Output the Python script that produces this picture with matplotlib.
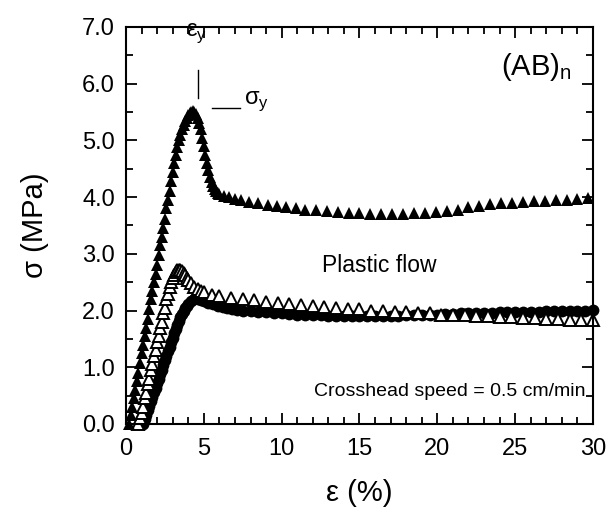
import matplotlib
matplotlib.use("Agg")
import matplotlib.pyplot as plt
from matplotlib.ticker import MultipleLocator, FormatStrFormatter

plt.rcParams['font.family'] = ['Liberation Sans', 'DejaVu Sans']

# filled triangles (highest curve)
strain_a = [0.2, 0.3, 0.4, 0.5, 0.6, 0.7, 0.8, 0.9, 1.0, 1.1, 1.2, 1.3, 1.4, 1.5,
            1.6, 1.7, 1.8, 1.9, 2.0, 2.1, 2.2, 2.3, 2.4, 2.5, 2.6, 2.7, 2.8, 2.9,
            3.0, 3.1, 3.2, 3.3, 3.4, 3.5, 3.6, 3.7, 3.8, 3.9, 4.0, 4.1, 4.2, 4.3,
            4.4, 4.5, 4.6, 4.7, 4.8, 4.9, 5.0, 5.1, 5.2, 5.3, 5.4, 5.5, 5.6, 5.7,
            5.8, 5.9, 6.0, 6.3, 6.6, 7.0, 7.4, 7.9, 8.5, 9.1, 9.7, 10.3, 10.9,
            11.5, 12.2, 12.9, 13.6, 14.3, 15.0, 15.7, 16.4, 17.1, 17.8, 18.5,
            19.2, 19.9, 20.6, 21.3, 22.0, 22.7, 23.4, 24.1, 24.8, 25.5, 26.2,
            26.9, 27.6, 28.3, 29.0, 29.7]
stress_a = [0.0, 0.15, 0.3, 0.45, 0.6, 0.75, 0.9, 1.08, 1.25, 1.4, 1.55, 1.7, 1.85, 2.02,
            2.2, 2.35, 2.5, 2.65, 2.8, 2.98, 3.15, 3.3, 3.45, 3.62, 3.8, 3.95, 4.1, 4.28,
            4.45, 4.6, 4.75, 4.88, 5.0, 5.1, 5.2, 5.28, 5.35, 5.4, 5.45, 5.48, 5.5, 5.51,
            5.5, 5.47, 5.4, 5.3, 5.2, 5.05, 4.9, 4.75, 4.6, 4.47, 4.35, 4.27, 4.2, 4.15,
            4.1, 4.07, 4.05, 4.02, 4.0, 3.97, 3.95, 3.92, 3.9, 3.87, 3.84, 3.82, 3.8,
            3.78, 3.77, 3.75, 3.74, 3.72, 3.72, 3.71, 3.7, 3.7, 3.71, 3.72,
            3.72, 3.73, 3.75, 3.78, 3.82, 3.85, 3.88, 3.9, 3.9, 3.92, 3.93,
            3.93, 3.95, 3.95, 3.97, 3.98]

# open triangles
strain_b = [0.8, 0.9, 1.0, 1.1, 1.2, 1.3, 1.4, 1.5, 1.6, 1.7, 1.8, 1.9, 2.0, 2.1,
            2.2, 2.3, 2.4, 2.5, 2.6, 2.7, 2.8, 2.9, 3.0, 3.1, 3.2, 3.3, 3.4, 3.5,
            3.6, 3.7, 3.8, 3.9, 4.0, 4.2, 4.4, 4.6, 4.8, 5.0, 5.5, 6.0, 6.75, 7.5,
            8.25, 9.0, 9.75, 10.5, 11.25, 12.0, 12.75, 13.5, 14.25, 15.0, 15.75,
            16.5, 17.25, 18.0, 18.75, 19.5, 20.25, 21.0, 21.75, 22.5, 23.25, 24.0,
            24.75, 25.5, 26.25, 27.0, 27.75, 28.5, 29.25, 30.0]
stress_b = [0.0, 0.1, 0.2, 0.3, 0.45, 0.55, 0.7, 0.8, 0.95, 1.05, 1.2, 1.3, 1.45, 1.55,
            1.7, 1.8, 1.95, 2.05, 2.2, 2.3, 2.42, 2.5, 2.58, 2.63, 2.68, 2.71, 2.72, 2.72,
            2.7, 2.66, 2.62, 2.58, 2.54, 2.48, 2.42, 2.38, 2.35, 2.32, 2.28, 2.25, 2.22, 2.2,
            2.18, 2.15, 2.13, 2.12, 2.1, 2.08, 2.06, 2.05, 2.03, 2.02, 2.0,
            2.0, 1.98, 1.97, 1.96, 1.95, 1.93, 1.92, 1.92, 1.9, 1.9, 1.89,
            1.88, 1.87, 1.86, 1.85, 1.85, 1.84, 1.83, 1.83]

# filled circles
strain_c = [1.1, 1.2, 1.3, 1.4, 1.5, 1.6, 1.7, 1.8, 1.9, 2.0, 2.1, 2.2, 2.3, 2.4,
            2.5, 2.6, 2.7, 2.8, 2.9, 3.0, 3.1, 3.2, 3.3, 3.4, 3.5, 3.6, 3.7, 3.8,
            3.9, 4.0, 4.2, 4.4, 4.6, 4.8, 5.0, 5.3, 5.6, 5.9, 6.2, 6.5, 6.8, 7.1,
            7.5, 8.0, 8.5, 9.0, 9.5, 10.0, 10.5, 11.0, 11.5, 12.0, 12.5, 13.0,
            13.5, 14.0, 14.5, 15.0, 15.5, 16.0, 16.5, 17.0, 17.5, 18.0, 18.5,
            19.0, 19.5, 20.0, 20.5, 21.0, 21.5, 22.0, 22.5, 23.0, 23.5, 24.0,
            24.5, 25.0, 25.5, 26.0, 26.5, 27.0, 27.5, 28.0, 28.5, 29.0, 29.5, 30.0]
stress_c = [0.0, 0.08, 0.16, 0.24, 0.32, 0.4, 0.48, 0.56, 0.64, 0.72, 0.8, 0.88, 0.96, 1.04,
            1.12, 1.2, 1.28, 1.36, 1.44, 1.52, 1.6, 1.68, 1.75, 1.82, 1.88, 1.94, 1.99, 2.04,
            2.08, 2.12, 2.17, 2.2, 2.2, 2.19, 2.17, 2.14, 2.11, 2.08, 2.06, 2.04, 2.02, 2.01,
            2.0, 1.99, 1.98, 1.97, 1.96, 1.95, 1.94, 1.93, 1.93, 1.92, 1.92, 1.91,
            1.91, 1.9, 1.9, 1.9, 1.9, 1.9, 1.91, 1.91, 1.91, 1.92, 1.92,
            1.93, 1.93, 1.93, 1.94, 1.94, 1.95, 1.95, 1.96, 1.96, 1.96, 1.97,
            1.97, 1.97, 1.98, 1.98, 1.98, 1.99, 1.99, 1.99, 2.0, 2.0, 2.0, 2.01]

fig = plt.figure(figsize=(6.14, 5.12), dpi=100)
ax = fig.add_axes([0.2052, 0.1719, 0.7606, 0.7754])

ax.plot(strain_c, stress_c, 'o', color='black', ms=8.5, mew=0, clip_on=False)
ax.plot(strain_b, stress_b, '^', mfc='white', mec='black', ms=9, mew=1.4, clip_on=False)
ax.plot(strain_a, stress_a, '^', color='black', ms=9, mew=0, clip_on=False)

ax.set_xlim(0, 30)
ax.set_ylim(0, 7)
ax.xaxis.set_major_locator(MultipleLocator(5))
ax.xaxis.set_minor_locator(MultipleLocator(1))
ax.yaxis.set_major_locator(MultipleLocator(1))
ax.yaxis.set_minor_locator(MultipleLocator(0.5))
ax.yaxis.set_major_formatter(FormatStrFormatter('%.1f'))
ax.tick_params(which='both', direction='in', top=True, right=True, width=1.3, labelsize=17)
ax.tick_params(which='major', length=8)
ax.tick_params(which='minor', length=5)
ax.tick_params(axis='x', which='major', pad=10)
ax.tick_params(axis='y', which='major', pad=8)
for s in ax.spines.values():
    s.set_linewidth(1.5)

ax.set_xlabel('ε (%)', fontsize=21, labelpad=14)
ax.set_ylabel('σ (MPa)', fontsize=21, labelpad=24)

ax.text(0.955, 0.90, '(AB)$_\\mathregular{n}$', transform=ax.transAxes,
        ha='right', va='center', fontsize=21)
ax.text(16.3, 2.8, 'Plastic flow', ha='center', va='center', fontsize=16.5)
ax.text(20.8, 0.57, 'Crosshead speed = 0.5 cm/min', ha='center', va='center', fontsize=14)

# yield point markers
ax.text(4.5, 6.9, 'ε$_\\mathregular{y}$', ha='center', va='center', fontsize=17)
ax.plot([4.6, 4.6], [5.75, 6.25], color='black', lw=1)
ax.plot([5.5, 7.3], [5.57, 5.57], color='black', lw=1)
ax.text(7.6, 5.7, 'σ$_\\mathregular{y}$', ha='left', va='center', fontsize=17)

fig.savefig('out.png', dpi=100)
